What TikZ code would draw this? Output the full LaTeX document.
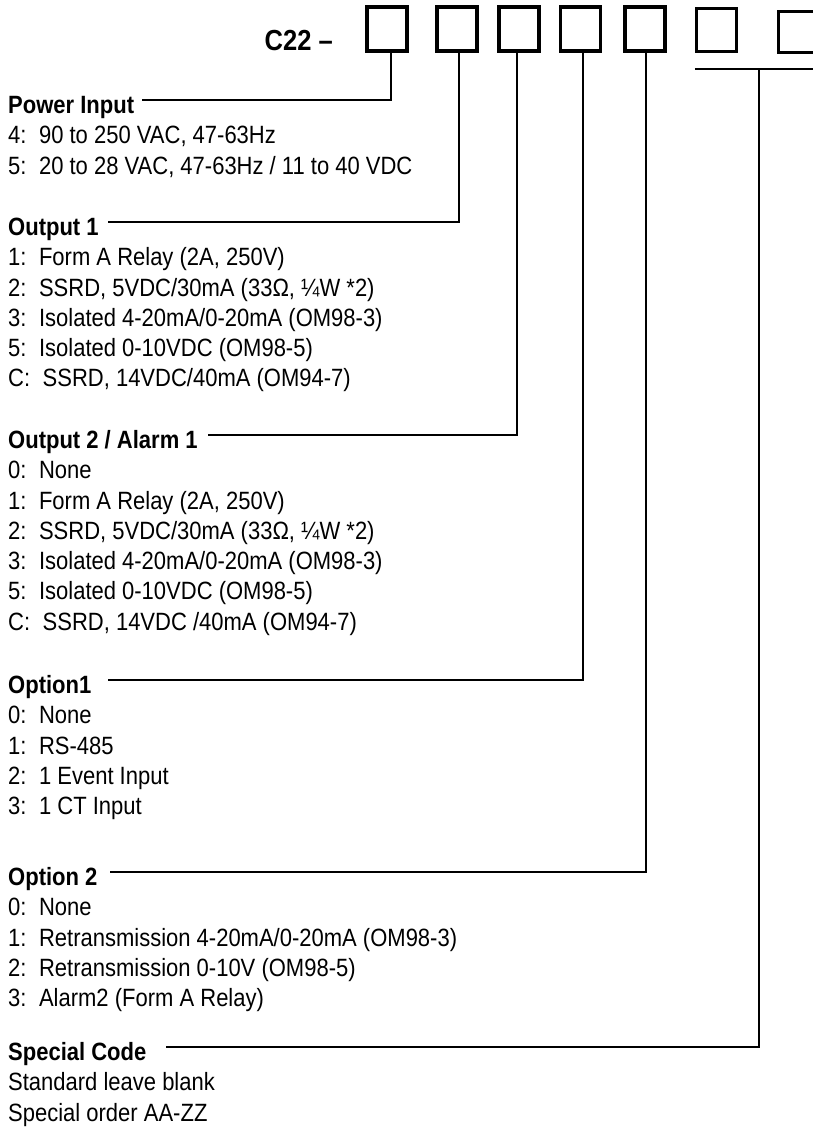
\documentclass[tikz,border=0pt]{standalone}
\usepackage{fontspec}
\setmainfont{Liberation Sans}[FakeStretch=0.88]

\begin{document}
\begin{tikzpicture}[x=1pt, y=-1pt,
    codebox/.style={draw, line width=3.2pt, minimum width=40pt, minimum height=44pt, inner sep=0pt},
    wire/.style={line width=2.6pt},
    head/.style={anchor=base west, inner sep=0pt, font=\fontsize{25}{30}\selectfont\bfseries},
    item/.style={anchor=base west, inner sep=0pt, font=\fontsize{25}{30}\selectfont}]
    \useasboundingbox (0,0) rectangle (813,1128);

    % Code boxes
    \node[anchor=base east, inner sep=0pt, font=\fontsize{29}{34}\selectfont\bfseries] (code) at (333,50) {C22 --};
    \node[codebox] (box1) at (387,29) {};
    \node[codebox] (box2) at (457,29) {};
    \node[codebox] (box3) at (519,29) {};
    \node[codebox] (box4) at (580.5,29) {};
    \node[codebox] (box5) at (645,29) {};
    \node[codebox, minimum height=43pt] (box6) at (716.5,30) {};
    \node[codebox, minimum height=41pt] (box7) at (798.5,32) {};
    \coordinate (bar) at (759,69);

    % Headings
    \node[head] (power) at (8,113) {Power Input};
    \node[head] (out1) at (8,235) {Output 1};
    \node[head] (out2) at (8,448) {Output 2 / Alarm 1};
    \node[head] (opt1) at (8,693) {Option1};
    \node[head] (opt2) at (8,885) {Option 2};
    \node[head] (special) at (8,1060) {Special Code};

    % Power input
    \node[item] (power4) at (8,143) {4:\enspace 90 to 250 VAC, 47-63Hz};
    \node[item] (power5) at (8,174) {5:\enspace 20 to 28 VAC, 47-63Hz / 11 to 40 VDC};

    % Output 1
    \node[item] (outa1) at (8,265) {1:\enspace Form A Relay (2A, 250V)};
    \node[item] (outa2) at (8,296) {2:\enspace SSRD, 5VDC/30mA (33Ω, ¼W *2)};
    \node[item] (outa3) at (8,326) {3:\enspace Isolated 4-20mA/0-20mA (OM98-3)};
    \node[item] (outa5) at (8,356) {5:\enspace Isolated 0-10VDC (OM98-5)};
    \node[item] (outaC) at (8,386) {C:\enspace SSRD, 14VDC/40mA (OM94-7)};

    % Output 2 / Alarm 1
    \node[item] (outb0) at (8,478) {0:\enspace None};
    \node[item] (outb1) at (8,509) {1:\enspace Form A Relay (2A, 250V)};
    \node[item] (outb2) at (8,539) {2:\enspace SSRD, 5VDC/30mA (33Ω, ¼W *2)};
    \node[item] (outb3) at (8,569) {3:\enspace Isolated 4-20mA/0-20mA (OM98-3)};
    \node[item] (outb5) at (8,599) {5:\enspace Isolated 0-10VDC (OM98-5)};
    \node[item] (outbC) at (8,630) {C:\enspace SSRD, 14VDC /40mA (OM94-7)};

    % Option 1
    \node[item] (opta0) at (8,723) {0:\enspace None};
    \node[item] (opta1) at (8,754) {1:\enspace RS-485};
    \node[item] (opta2) at (8,784) {2:\enspace 1 Event Input};
    \node[item] (opta3) at (8,814) {3:\enspace 1 CT Input};

    % Option 2
    \node[item] (optb0) at (8,915) {0:\enspace None};
    \node[item] (optb1) at (8,946) {1:\enspace Retransmission 4-20mA/0-20mA (OM98-3)};
    \node[item] (optb2) at (8,976) {2:\enspace Retransmission 0-10V (OM98-5)};
    \node[item] (optb3) at (8,1006) {3:\enspace Alarm2 (Form A Relay)};

    % Special code
    \node[item] (std) at (8,1090) {Standard leave blank};
    \node[item] (order) at (8,1121) {Special order AA-ZZ};

    % Lines
    \draw[wire] ([xshift=4pt]box1.south) |- ([xshift=8pt,yshift=13pt]power.base east);
    \draw[wire] ([xshift=2pt]box2.south) |- ([xshift=9pt,yshift=13pt]out1.base east);
    \draw[wire] ([xshift=-2pt]box3.south) |- ([xshift=10pt,yshift=13pt]out2.base east);
    \draw[wire] ([xshift=2.5pt]box4.south) |- ([xshift=16pt,yshift=13pt]opt1.base east);
    \draw[wire] ([xshift=1pt]box5.south) |- ([xshift=12pt,yshift=13pt]opt2.base east);
    \draw[wire] (box6.south west |- bar) -- (box7.south east |- bar);
    \draw[wire] (bar) |- ([xshift=19pt,yshift=13pt]special.base east);

\end{tikzpicture}
\end{document}
